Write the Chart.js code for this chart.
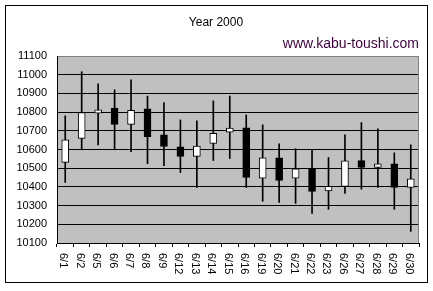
<!DOCTYPE html>
<html>
<head>
<meta charset="utf-8">
<script src="https://cdn.jsdelivr.net/npm/chart.js@4.4.1/dist/chart.umd.min.js"></script>
<style>
  html, body { margin: 0; padding: 0; background: #fff; }
  #grafico { display: block; }
</style>
</head>
<body>
<canvas id="grafico" width="433" height="291"></canvas>
<script>
/* ===== DATOS ===== */
const fechas = ['6/1','6/2','6/5','6/6','6/7','6/8','6/9','6/12','6/13','6/14','6/15',
                '6/16','6/19','6/20','6/21','6/22','6/23','6/26','6/27','6/28','6/29','6/30'];
const aperturas = [10531, 10659, 10794, 10822, 10734, 10817, 10678, 10614, 10563, 10632, 10693,
                   10716, 10447, 10556, 10447, 10497, 10378, 10403, 10541, 10504, 10524, 10397];
const cierres   = [10652, 10798, 10812, 10734, 10810, 10669, 10616, 10563, 10618, 10687, 10714,
                   10451, 10556, 10435, 10497, 10376, 10403, 10540, 10504, 10524, 10397, 10443];
const maximos   = [10780, 11016, 10951, 10919, 10972, 10886, 10851, 10758, 10753, 10860, 10886,
                   10785, 10732, 10630, 10604, 10598, 10557, 10678, 10744, 10710, 10582, 10625];
const minimos   = [10424, 10598, 10625, 10598, 10589, 10524, 10513, 10477, 10397, 10541, 10552,
                   10397, 10323, 10317, 10312, 10258, 10280, 10365, 10388, 10397, 10280, 10162];
const ticksY = [10100, 10200, 10300, 10400, 10500, 10600, 10700, 10800, 10900, 11000, 11100];

const titulo = 'Year 2000';
const marcaAgua = 'www.kabu-toushi.com';
const fuente = "'Liberation Sans', Arial, sans-serif";

// fondo gris, marco exterior, textos y etiquetas giradas
const decoracion = {
    id: 'decoracion',
    beforeDraw(chart) {
        const ctx = chart.ctx, a = chart.chartArea;
        ctx.save();
        ctx.fillStyle = '#fff';
        ctx.fillRect(0, 0, chart.width, chart.height);
        ctx.strokeStyle = '#000';
        ctx.lineWidth = 1;
        ctx.strokeRect(5.5, 5.5, 422, 277);
        ctx.fillStyle = '#c0c0c0';
        ctx.fillRect(a.left, a.top, a.right - a.left, a.bottom - a.top);
        ctx.restore();
    },
    afterDraw(chart) {
        const ctx = chart.ctx, a = chart.chartArea, xS = chart.scales.x;
        ctx.save();
        ctx.strokeStyle = '#808080';
        ctx.beginPath();
        ctx.moveTo(Math.round(a.right) - 0.5, a.top);
        ctx.lineTo(Math.round(a.right) - 0.5, a.bottom);
        ctx.stroke();

        ctx.fillStyle = '#000';
        ctx.font = '12px ' + fuente;
        ctx.textAlign = 'center';
        ctx.textBaseline = 'middle';
        ctx.fillText(titulo, 216, 23);

        ctx.fillStyle = '#400040';
        ctx.font = '14px ' + fuente;
        ctx.textAlign = 'right';
        ctx.fillText(marcaAgua, 419, 44);

        ctx.fillStyle = '#000';
        ctx.font = '11px ' + fuente;
        ctx.textAlign = 'left';
        ctx.textBaseline = 'middle';
        fechas.forEach((f, i) => {
            const x = xS.getPixelForValue(i) - 2;
            ctx.save();
            ctx.translate(x, 253);
            ctx.rotate(Math.PI / 2);
            ctx.fillText(f, 0, 0);
            ctx.restore();
        });
        ctx.restore();
    }
};

new Chart(document.getElementById('grafico'), {
    type: 'bar',
    data: {
        labels: fechas,
        datasets: [
            {
                label: 'mecha',
                data: minimos.map((m, i) => [m, maximos[i]]),
                backgroundColor: '#000',
                borderWidth: 0,
                barThickness: 1,
                grouped: false,
                order: 2
            },
            {
                label: 'cuerpo',
                data: aperturas.map((o, i) => [o, cierres[i]]),
                backgroundColor: aperturas.map((o, i) => cierres[i] >= o ? '#fff' : '#000'),
                borderColor: '#000',
                borderWidth: 1,
                borderSkipped: false,
                barThickness: 7,
                grouped: false,
                order: 1
            }
        ]
    },
    options: {
        responsive: false,
        animation: false,
        layout: { padding: { top: 56, right: 14, left: 0, bottom: 0 } },
        plugins: { legend: { display: false }, tooltip: { enabled: false }, title: { display: false } },
        scales: {
            x: {
                afterFit: s => { s.height = 48; },
                ticks: { display: false },
                grid: { drawOnChartArea: false, drawTicks: true, tickLength: 4, offset: true, color: '#000' },
                border: { color: '#000' }
            },
            y: {
                min: 10100,
                max: 11100,
                afterFit: s => { s.width = 57; },
                afterBuildTicks: s => { s.ticks = ticksY.map(v => ({ value: v })); },
                ticks: {
                    color: '#000',
                    padding: 10,
                    font: { family: fuente, size: 11 },
                    callback: v => String(v)
                },
                grid: {
                    drawTicks: false,
                    color: c => (c.tick && c.tick.value === 11100) ? '#808080' : '#000'
                },
                border: { color: '#000' }
            }
        }
    },
    plugins: [decoracion]
});
</script>
</body>
</html>
